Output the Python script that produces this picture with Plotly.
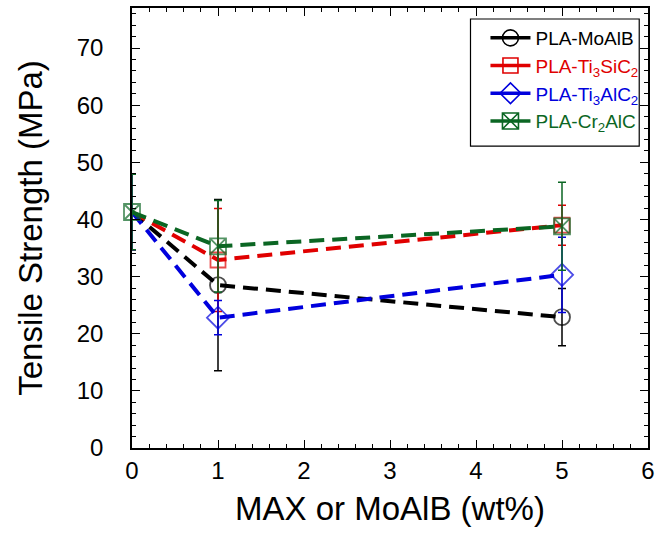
import plotly.graph_objects as go

# ---- data ----
x_wt = [0, 1, 5]
series_names = [
    "PLA-MoAlB",
    "PLA-Ti<sub>3</sub>SiC<sub>2</sub>",
    "PLA-Ti<sub>3</sub>AlC<sub>2</sub>",
    "PLA-Cr<sub>2</sub>AlC",
]
moalb_y = [41.3, 28.5, 22.9]
moalb_err = [6.6, 15.0, 5.0]
tisic_y = [41.3, 32.9, 39.0]
tisic_err = [6.6, 9.0, 3.5]
tialc_y = [41.3, 22.8, 30.3]
tialc_err = [6.6, 3.0, 6.6]
cralc_y = [41.3, 35.3, 38.8]
cralc_err = [6.6, 8.0, 7.7]

colors = ["#000000", "#e00000", "#0000dd", "#0b6623"]
symbols = ["circle-open", "square-open", "diamond-open", "square-x-open"]
sizes = [16, 15, 17, 16]
ys = [moalb_y, tisic_y, tialc_y, cralc_y]
errs = [moalb_err, tisic_err, tialc_err, cralc_err]
# at x = 0 only the last series' marker is visible in the reference (others overlapped)
show_first = [False, False, False, True]

FONT = "Liberation Sans, Arial, Helvetica, sans-serif"

fig = go.Figure()
for name, y, e, c, s, sz, sf in zip(series_names, ys, errs, colors, symbols, sizes, show_first):
    msize = [sz if (i > 0 or sf) else 0 for i in range(len(x_wt))]
    fig.add_trace(go.Scatter(
        x=x_wt, y=y, mode="lines+markers", showlegend=False, cliponaxis=False,
        line=dict(color=c, width=4, dash="15px,8px"),
        marker=dict(symbol=s, size=msize, color=c, line=dict(color=c, width=1.8)),
        error_y=dict(type="data", array=e, visible=True, color=c, thickness=1.5, width=4),
    ))
# legend entries with solid lines
for name, c, s, sz in zip(series_names, colors, symbols, sizes):
    fig.add_trace(go.Scatter(
        x=[None], y=[None], mode="lines+markers",
        name=f"<span style='color:{c}'>{name}</span>",
        line=dict(color=c, width=3.5),
        marker=dict(symbol=s, size=sz, color=c, line=dict(color=c, width=1.6)),
    ))

# legend frame
fig.add_shape(type="rect", xref="paper", yref="paper",
              x0=0.656, x1=0.983, y0=0.686, y1=0.975,
              line=dict(color="black", width=1.2), fillcolor="white", layer="above")

fig.update_layout(
    width=657, height=533,
    margin=dict(l=132, r=7, t=8, b=85),
    paper_bgcolor="white", plot_bgcolor="white",
    font=dict(family=FONT, color="black"),
    showlegend=True,
    legend=dict(
        x=0.685, y=0.975, xanchor="left", yanchor="top",
        bgcolor="rgba(0,0,0,0)", borderwidth=0,
        font=dict(size=19, family=FONT), tracegroupgap=0,
        itemwidth=40,
    ),
    xaxis=dict(
        range=[0, 6], dtick=1, tick0=0, automargin=False,
        ticks="inside", ticklen=8, tickwidth=1, tickcolor="black",
        minor=dict(ticks="inside", dtick=0.2, ticklen=4, tickwidth=1, tickcolor="black"),
        showline=True, linewidth=1.5, linecolor="black", mirror="allticks",
        showgrid=False, zeroline=False,
        tickfont=dict(size=24, family=FONT),
        ticklabelstandoff=0,
        title=dict(text="MAX or MoAlB (wt%)", font=dict(size=33, family=FONT), standoff=14),
    ),
    yaxis=dict(
        range=[0, 77], dtick=10, tick0=0,
        ticks="inside", ticklen=8, tickwidth=1, tickcolor="black",
        minor=dict(ticks="inside", dtick=2, ticklen=4, tickwidth=1, tickcolor="black"),
        showline=True, linewidth=1.5, linecolor="black", mirror="allticks",
        showgrid=False, zeroline=False,
        tickfont=dict(size=24, family=FONT),
        ticklabelstandoff=22,
        title=dict(text="Tensile Strength (MPa)", font=dict(size=33, family=FONT), standoff=24),
    ),
)

fig.write_html("out.html")
